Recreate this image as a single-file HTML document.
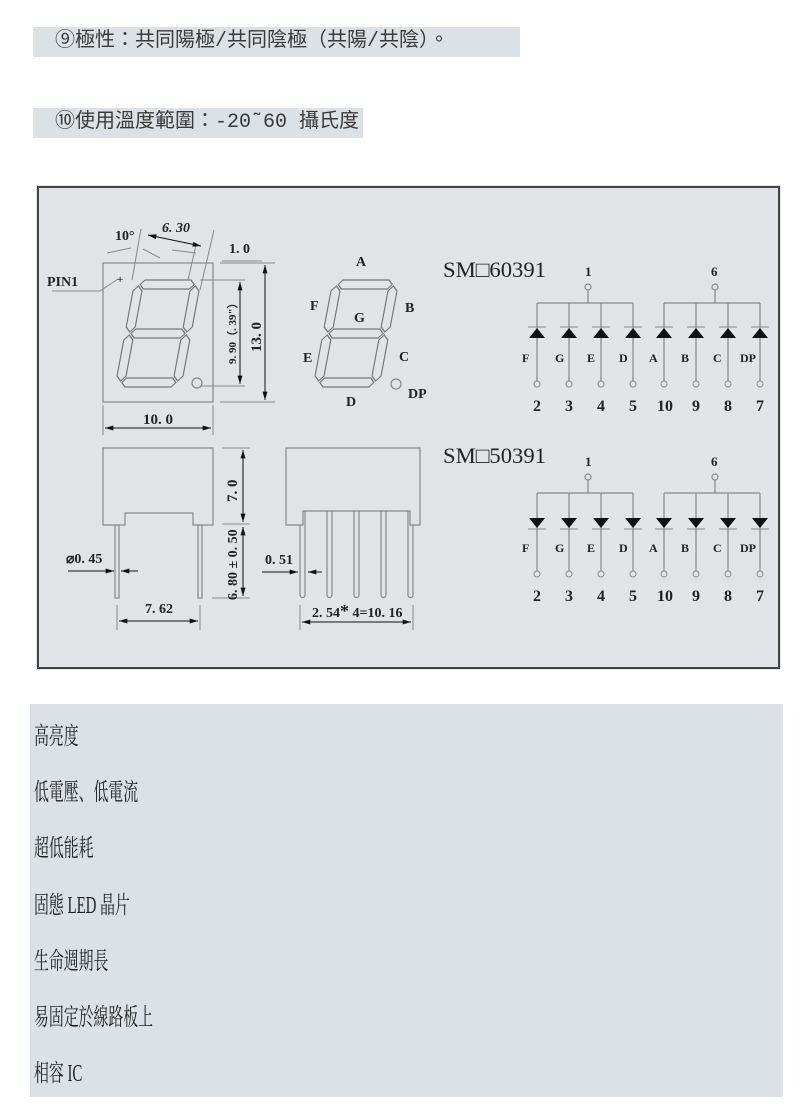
<!DOCTYPE html>
<html><head><meta charset="utf-8"><style>
html,body{margin:0;padding:0;background:#fff;width:800px;height:1116px;overflow:hidden;position:relative}
.bar{position:absolute;background:#dbe1e5;font-family:"Liberation Mono","Noto Sans CJK TC",monospace;font-size:20px;color:#3a3a3a;line-height:30px;height:30px;white-space:nowrap}
.feat{position:absolute;left:30px;top:704px;width:753px;height:393px;background:#dbe1e5}
.feat div{position:absolute;left:4px;font-family:"Liberation Serif","Noto Serif CJK SC",serif;font-size:24px;color:#222;transform:scaleX(.62);transform-origin:left;white-space:nowrap}
svg{position:absolute;left:0;top:0}
text{font-family:"Liberation Serif",serif;font-weight:bold;fill:#222}
</style></head><body>
<div class="bar" style="left:33px;top:27px;width:487px"><span style="padding-left:22px">⑨極性：共同陽極/共同陰極（共陽/共陰）。</span></div>
<div class="bar" style="left:33px;top:108px;width:330px"><span style="padding-left:22px">⑩使用溫度範圍：-20˜60 攝氏度</span></div>

<svg width="800" height="1116" viewBox="0 0 800 1116">
<defs>
<marker id="ar" viewBox="0 0 10 6" refX="10" refY="3" markerWidth="9" markerHeight="5" orient="auto-start-reverse"><path d="M0,0L10,3L0,6z" fill="#111"/></marker>
<g id="digit" fill="none" stroke="#777" stroke-width="1.2">
<path d="M6,-102.5L10,-107H56L60,-102.5L56,-98H10Z"/>
<path d="M6,-53.5L10,-58H56L60,-53.5L56,-49H10Z"/>
<path d="M6,-4.5L10,-9H56L60,-4.5L56,0H10Z"/>
<path d="M4.5,-101L9,-96V-60L4.5,-55L0,-60V-96Z"/>
<path d="M61.5,-101L66,-96V-60L61.5,-55L57,-60V-96Z"/>
<path d="M4.5,-52L9,-47V-11L4.5,-6L0,-11V-47Z"/>
<path d="M61.5,-52L66,-47V-11L61.5,-6L57,-11V-47Z"/>
</g>
<g id="dup"><line x1="0" y1="0" x2="0" y2="78" stroke="#888" stroke-width="1.2"/><path d="M-8,35L8,35L0,25Z" fill="#111"/><line x1="-9" y1="24" x2="9" y2="24" stroke="#888"/><circle cx="0" cy="81" r="3" fill="#e2e4e8" stroke="#888"/></g>
<g id="ddn"><line x1="0" y1="0" x2="0" y2="78" stroke="#888" stroke-width="1.2"/><path d="M-8,25L8,25L0,35Z" fill="#111"/><line x1="-9" y1="36" x2="9" y2="36" stroke="#888"/><circle cx="0" cy="81" r="3" fill="#e2e4e8" stroke="#888"/></g>
</defs>
<rect x="36" y="185" width="745" height="485" fill="#e1e3e7"/>
<rect x="38" y="187" width="741" height="481" fill="none" stroke="#444" stroke-width="2"/>

<rect x="103" y="263" width="110" height="139" fill="none" stroke="#888" stroke-width="1.2"/>
<g transform="translate(115,387) skewX(-10.6)"><use href="#digit"/></g>
<circle cx="197" cy="383" r="5" fill="none" stroke="#888" stroke-width="1.2"/>
<g stroke="#888" stroke-width="1" fill="none">
<line x1="220" y1="263" x2="275" y2="263"/><line x1="200" y1="280" x2="245" y2="280"/>
<line x1="200" y1="386" x2="245" y2="386"/><line x1="220" y1="402" x2="275" y2="402"/>
<line x1="103" y1="405" x2="103" y2="435"/><line x1="213" y1="405" x2="213" y2="435"/>
<line x1="52" y1="291" x2="100" y2="291"/><line x1="100" y1="291" x2="118" y2="279"/>
<line x1="141" y1="229" x2="132" y2="280"/><line x1="196" y1="245" x2="188" y2="280"/>
<line x1="214" y1="230" x2="200" y2="290"/>
<line x1="107" y1="253" x2="131" y2="248"/><line x1="143" y1="249" x2="160" y2="258"/>
<line x1="172" y1="250" x2="196" y2="253"/><line x1="222" y1="261" x2="262" y2="261"/>
</g>
<text x="117" y="283" font-size="11">+</text>
<g stroke="#111" stroke-width="1" marker-end="url(#ar)" marker-start="url(#ar)">
<line x1="265" y1="265" x2="265" y2="400"/><line x1="240" y1="282" x2="240" y2="384"/>
<line x1="105" y1="428" x2="211" y2="428"/><line x1="148" y1="235" x2="201" y2="246"/>
</g>
<text x="47" y="286" font-size="14">PIN1</text>
<text x="115" y="240" font-size="14">10°</text>
<text x="162" y="232" font-size="14" font-style="italic">6. 30</text>
<text x="229" y="253" font-size="14">1. 0</text>
<text x="143" y="424" font-size="15">10. 0</text>
<text transform="translate(261,352) rotate(-90)" font-size="15">13. 0</text>
<text transform="translate(236,364) rotate(-90)" font-size="11">9. 90（. 39"）</text>

<g transform="translate(313,387) skewX(-10.6)"><use href="#digit"/></g>
<circle cx="396" cy="384" r="5" fill="none" stroke="#888" stroke-width="1.2"/>
<g font-size="14"><text x="356" y="266">A</text><text x="310" y="310">F</text><text x="405" y="312">B</text>
<text x="354" y="322">G</text><text x="303" y="362">E</text><text x="399" y="361">C</text>
<text x="346" y="406">D</text><text x="408" y="398">DP</text></g>

<g fill="none" stroke="#888" stroke-width="1.2">
<path d="M103,448H213V525H193V513H125V525H103Z"/>
<rect x="115" y="525" width="4" height="73"/><rect x="198" y="525" width="4" height="73"/>
<path d="M286,448H420V525H410V511H303V525H286Z"/>
<path d="M300,525V595a2.5,2.5 0 0 0 5,0V511"/>
<path d="M327,511V595a2.5,2.5 0 0 0 5,0V511"/>
<path d="M354,511V595a2.5,2.5 0 0 0 5,0V511"/>
<path d="M381,511V595a2.5,2.5 0 0 0 5,0V511"/>
<path d="M408,511V595a2.5,2.5 0 0 0 5,0V525"/>
</g>
<g stroke="#888" stroke-width="1">
<line x1="222" y1="448" x2="250" y2="448"/><line x1="222" y1="524" x2="250" y2="524"/><line x1="212" y1="598" x2="250" y2="598"/>
<line x1="117" y1="605" x2="117" y2="630"/><line x1="200" y1="605" x2="200" y2="630"/>
<line x1="300" y1="605" x2="300" y2="630"/><line x1="413" y1="605" x2="413" y2="630"/>
</g>
<g stroke="#111" stroke-width="1">
<line x1="243" y1="450" x2="243" y2="522" marker-end="url(#ar)" marker-start="url(#ar)"/>
<line x1="243" y1="527" x2="243" y2="596" marker-end="url(#ar)" marker-start="url(#ar)"/>
<line x1="119" y1="621" x2="198" y2="621" marker-end="url(#ar)" marker-start="url(#ar)"/>
<line x1="302" y1="622" x2="411" y2="622" marker-end="url(#ar)" marker-start="url(#ar)"/>
<line x1="68" y1="571" x2="114" y2="571" marker-end="url(#ar)"/>
<line x1="138" y1="571" x2="121" y2="571" marker-end="url(#ar)"/>
<line x1="262" y1="572" x2="298" y2="572" marker-end="url(#ar)"/>
<line x1="322" y1="572" x2="308" y2="572" marker-end="url(#ar)"/>
</g>
<text transform="translate(237,502) rotate(-90)" font-size="15">7. 0</text>
<text transform="translate(237,600) rotate(-90)" font-size="14">6. 80 ± 0. 50</text>
<text x="66" y="563" font-size="14">⌀0. 45</text>
<text x="145" y="613" font-size="14">7. 62</text>
<text x="265" y="564" font-size="14">0. 51</text>
<text x="312" y="617" font-size="14">2. 54<tspan font-size="18">*</tspan> 4=10. 16</text>

<g>
<text x="443" y="277" font-size="22" style="font-weight:normal" textLength="103" lengthAdjust="spacingAndGlyphs">SM□60391</text>
<g font-size="13"><text x="585" y="276">1</text><text x="711" y="276">6</text></g>
<g stroke="#888" stroke-width="1.2" fill="#e2e4e8">
<line x1="588" y1="290" x2="588" y2="303"/><line x1="715" y1="290" x2="715" y2="303"/>
<line x1="537" y1="303" x2="633" y2="303"/><line x1="664" y1="303" x2="760" y2="303"/>
<circle cx="588" cy="287" r="3"/><circle cx="715" cy="287" r="3"/></g>
<use href="#dup" x="537" y="303"/><use href="#dup" x="569" y="303"/><use href="#dup" x="601" y="303"/><use href="#dup" x="633" y="303"/>
<use href="#dup" x="664" y="303"/><use href="#dup" x="696" y="303"/><use href="#dup" x="728" y="303"/><use href="#dup" x="760" y="303"/>
<g font-size="12"><text x="522" y="362">F</text><text x="555" y="362">G</text><text x="587" y="362">E</text><text x="619" y="362">D</text>
<text x="649" y="362">A</text><text x="681" y="362">B</text><text x="713" y="362">C</text><text x="740" y="362">DP</text></g>
<g font-size="16"><text x="533" y="411">2</text><text x="565" y="411">3</text><text x="597" y="411">4</text><text x="629" y="411">5</text>
<text x="657" y="411">10</text><text x="692" y="411">9</text><text x="724" y="411">8</text><text x="756" y="411">7</text></g>
</g>
<g>
<text x="443" y="463" font-size="22" style="font-weight:normal" textLength="103" lengthAdjust="spacingAndGlyphs">SM□50391</text>
<g font-size="13"><text x="585" y="466">1</text><text x="711" y="466">6</text></g>
<g stroke="#888" stroke-width="1.2" fill="#e2e4e8">
<line x1="588" y1="480" x2="588" y2="493"/><line x1="715" y1="480" x2="715" y2="493"/>
<line x1="537" y1="493" x2="633" y2="493"/><line x1="664" y1="493" x2="760" y2="493"/>
<circle cx="588" cy="477" r="3"/><circle cx="715" cy="477" r="3"/></g>
<use href="#ddn" x="537" y="493"/><use href="#ddn" x="569" y="493"/><use href="#ddn" x="601" y="493"/><use href="#ddn" x="633" y="493"/>
<use href="#ddn" x="664" y="493"/><use href="#ddn" x="696" y="493"/><use href="#ddn" x="728" y="493"/><use href="#ddn" x="760" y="493"/>
<g font-size="12"><text x="522" y="552">F</text><text x="555" y="552">G</text><text x="587" y="552">E</text><text x="619" y="552">D</text>
<text x="649" y="552">A</text><text x="681" y="552">B</text><text x="713" y="552">C</text><text x="740" y="552">DP</text></g>
<g font-size="16"><text x="533" y="601">2</text><text x="565" y="601">3</text><text x="597" y="601">4</text><text x="629" y="601">5</text>
<text x="657" y="601">10</text><text x="692" y="601">9</text><text x="724" y="601">8</text><text x="756" y="601">7</text></g>
</g>
</svg>

<div class="feat">
<div style="top:12px">高亮度</div>
<div style="top:68px">低電壓、低電流</div>
<div style="top:124px">超低能耗</div>
<div style="top:181px">固態 LED 晶片</div>
<div style="top:237px">生命週期長</div>
<div style="top:293px">易固定於線路板上</div>
<div style="top:349px">相容 IC</div>
</div>
</body></html>
